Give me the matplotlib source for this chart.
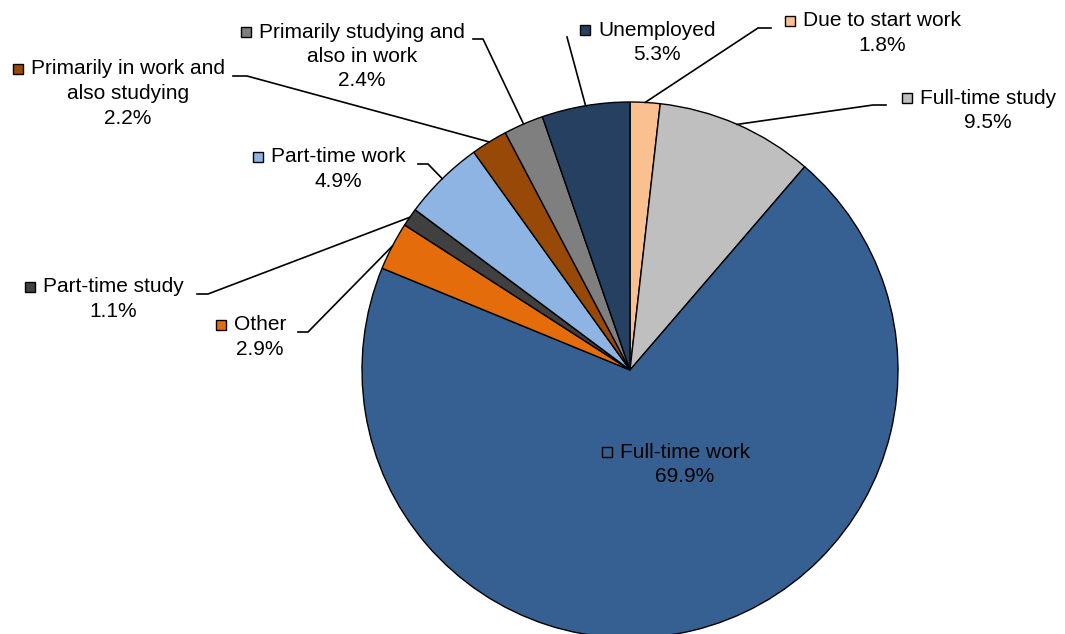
import numpy as np
import matplotlib
matplotlib.use('Agg')
import matplotlib.pyplot as plt
from matplotlib.patches import Rectangle

# Destination shares, clockwise from 12 o'clock
categories = ['Due to start work', 'Full-time study', 'Full-time work', 'Other',
              'Part-time study', 'Part-time work',
              'Primarily in work and\nalso studying',
              'Primarily studying and\nalso in work', 'Unemployed']
values = [1.8, 9.5, 69.9, 2.9, 1.1, 4.9, 2.2, 2.4, 5.3]
colors = ['#FAC090', '#BFBFBF', '#376092', '#E46C0A', '#404040',
          '#8EB4E3', '#984807', '#7F7F7F', '#254061']

W, H = 1065, 634
CX, CY, R = 630, 370, 268

# label layout in pixel coords (top-down): text centre x, first line y,
# leader attach x, elbow x (None = no leader)
layout = {
    'Due to start work': (882, 21, 771, 758),
    'Full-time study': (988, 98, 886, 873),
    'Full-time work': (685, 452, None, None),
    'Other': (260, 325, 298, 308),
    'Part-time study': (113, 287, 197, 208),
    'Part-time work': (338, 157, 418, 428),
    'Primarily in work and\nalso studying': (128, 69, 233, 247),
    'Primarily studying and\nalso in work': (362, 32, 473, 483),
    'Unemployed': (657, 30, 567, 567),
}

plt.rcParams['font.family'] = ['Liberation Sans', 'DejaVu Sans']
FS = 15
LINE = 24.5


def py(y):
    return H - y


fig = plt.figure(figsize=(W / 100, H / 100), dpi=100)
ax = fig.add_axes([0, 0, 1, 1])
ax.set_xlim(0, W)
ax.set_ylim(0, H)
ax.axis('off')

wedges, _ = ax.pie(values, colors=colors, startangle=90, counterclock=False,
                   center=(CX, py(CY)), radius=R,
                   wedgeprops=dict(edgecolor='black', linewidth=1.0))
ax.set_xlim(0, W)
ax.set_ylim(0, H)
ax.set_aspect('equal')

first_lines = []
for cat, val, col, w in zip(categories, values, colors, wedges):
    tx, ty, ax_x, el_x = layout[cat]
    lines = cat.split('\n') + [f'{val:.1f}%']
    for k, ln in enumerate(lines):
        t = ax.text(tx, py(ty + k * LINE), ln, fontsize=FS, ha='center',
                    va='center', color='black')
        if k == 0:
            first_lines.append((t, col, ty))
    if ax_x is not None:
        mid = np.deg2rad((w.theta1 + w.theta2) / 2)
        ex = CX + R * np.cos(mid)
        ey = py(CY) + R * np.sin(mid)
        ly = py(ty + 7)
        ax.plot([ax_x, el_x, ex], [ly, ly, ey], color='black', lw=1.2,
                solid_joinstyle='miter', zorder=3)

# small colour key squares left of each label's first line
fig.canvas.draw()
renderer = fig.canvas.get_renderer()
inv = ax.transData.inverted()
for t, col, ty in first_lines:
    bb = t.get_window_extent(renderer)
    left = inv.transform((bb.x0, bb.y0))[0]
    s = 10
    ax.add_patch(Rectangle((left - 8 - s, py(ty) - s / 2), s, s,
                           facecolor=col, edgecolor='black', lw=1.0, zorder=4))

fig.savefig('out.png', dpi=100)
